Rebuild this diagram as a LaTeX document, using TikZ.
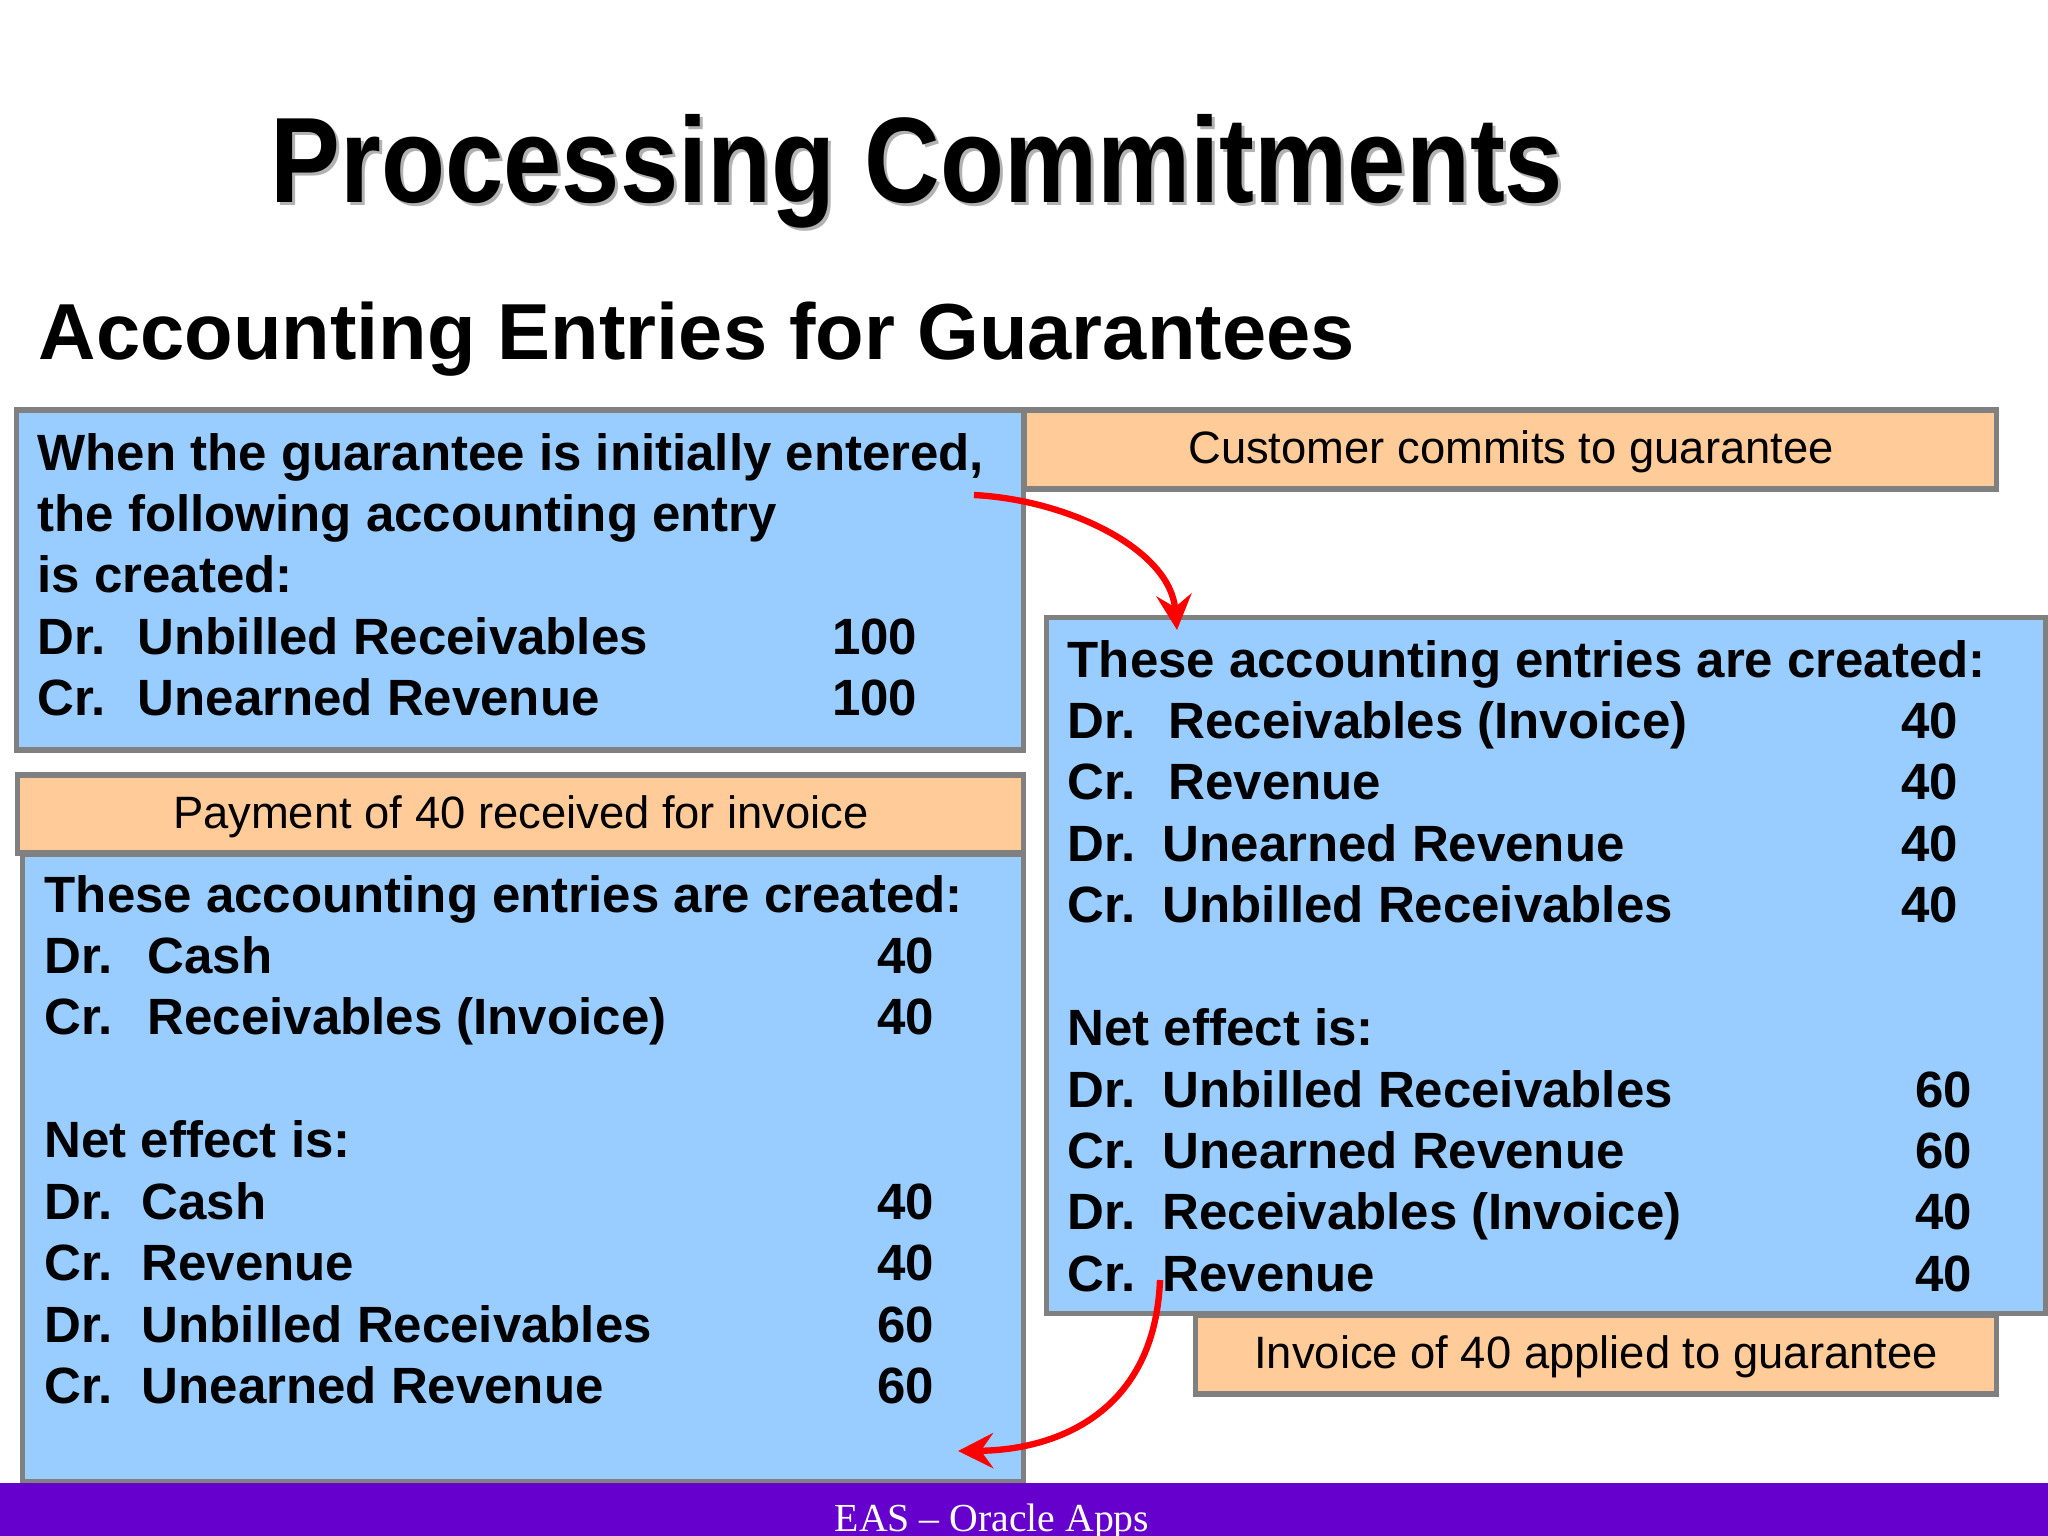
\documentclass[tikz,border=0pt]{standalone}
\usepackage{fontspec}
\setmainfont{Liberation Sans}
\newfontfamily\footerfont{Liberation Serif}
\usepackage{array}
\usetikzlibrary{arrows.meta}

\definecolor{boxblue}{RGB}{153,204,255}
\definecolor{boxpeach}{RGB}{255,204,153}
\definecolor{boxgray}{RGB}{128,128,128}
\definecolor{barpurple}{RGB}{102,0,204}
\newcommand{\entryfont}{\fontsize{14.5}{17.47}\bfseries\selectfont}
\newcommand{\notefont}{\fontsize{12.9}{15}\selectfont}
\newcommand{\wide}[1]{\multicolumn{3}{@{}l@{}}{#1}}
\newcommand{\shortamt}[1]{\mbox{#1\hspace{0.14cm}}}

\begin{document}
\begin{tikzpicture}[x=0.01cm, y=-0.01cm,
  bluebox/.style={draw=boxgray, line width=1.5pt, fill=boxblue, inner sep=0pt},
  notebox/.style={draw=boxgray, line width=1.5pt, fill=boxpeach, inner sep=0pt},
  entry/.style={anchor=base west, inner sep=0pt, font=\entryfont},
  note/.style={anchor=base, inner sep=0pt, font=\notefont},
  flow/.style={draw=red, line width=1.8pt, -{Stealth[length=10pt,width=10pt,inset=3.5pt]}}]
  \fill[white] (0,0) rectangle (2048,1536);
  \useasboundingbox (0,0) rectangle (2048,1536);

  % headings
  \node[anchor=base, inner sep=0pt, text=gray!60, font=\fontsize{29.8}{34}\bfseries\selectfont]
    (titleshadow) at (920,205) {\scalebox{1}[1.16]{Processing Commitments}};
  \node[anchor=base, inner sep=0pt, font=\fontsize{29.8}{34}\bfseries\selectfont]
    (title) at (917,202) {\scalebox{1}[1.16]{Processing Commitments}};
  \node[anchor=base west, inner sep=0pt, font=\fontsize{22.6}{27}\bfseries\selectfont]
    (subtitle) at (38,359) {Accounting Entries for Guarantees};

  % boxes
  \node[bluebox, minimum width=10.06cm, minimum height=3.40cm] (initial) at (520,580) {};
  \node[notebox, minimum width=9.71cm, minimum height=0.79cm] (commit) at (1510.5,449.5) {};
  \node[bluebox, minimum width=9.98cm, minimum height=6.95cm] (invoiced) at (1546,965.5) {};
  \node[notebox, minimum width=10.05cm, minimum height=0.78cm] (payment) at (520.5,814) {};
  \node[bluebox, minimum width=10.00cm, minimum height=6.26cm] (paid) at (523,1168) {};
  \node[notebox, minimum width=8.00cm, minimum height=0.79cm] (applied) at (1596,1354.5) {};

  % notes
  \node[note] (committxt) at (1511,463) {Customer commits to guarantee};
  \node[note] (paymenttxt) at (521,828) {Payment of 40 received for invoice};
  \node[note] (appliedtxt) at (1596,1368) {Invoice of 40 applied to guarantee};

  % entries
  \node[entry] (initialtxt) at (37,470) {%
    \begin{tabular}[t]{@{}p{1.00cm}@{}p{6.29cm}@{}>{\raggedleft\arraybackslash}p{1.5cm}@{}}
      \wide{When the guarantee is initially entered,}\\
      \wide{the following accounting entry}\\
      \wide{is created:}\\
      Dr. & Unbilled Receivables & 100\\
      Cr. & Unearned Revenue & 100
    \end{tabular}};
  \node[entry] (invoicedtxt) at (1067,677) {%
    \begin{tabular}[t]{@{}p{0.95cm}@{}p{6.59cm}@{}>{\raggedleft\arraybackslash}p{1.5cm}@{}}
      \wide{These accounting entries are created:}\\
      Dr. & \hspace*{0.06cm}Receivables (Invoice) & \shortamt{40}\\
      Cr. & \hspace*{0.06cm}Revenue & \shortamt{40}\\
      Dr. & Unearned Revenue & \shortamt{40}\\
      Cr. & Unbilled Receivables & \shortamt{40}\\
      \\
      \wide{Net effect is:}\\
      Dr. & Unbilled Receivables & 60\\
      Cr. & Unearned Revenue & 60\\
      Dr. & Receivables (Invoice) & 40\\
      Cr. & Revenue & 40
    \end{tabular}};
  \node[entry] (paidtxt) at (44,912) {%
    \begin{tabular}[t]{@{}p{0.97cm}@{}p{6.42cm}@{}>{\raggedleft\arraybackslash}p{1.5cm}@{}}
      \wide{These accounting entries are created:}\\
      Dr. & \hspace*{0.06cm}Cash & 40\\
      Cr. & \hspace*{0.06cm}Receivables (Invoice) & 40\\
      \\
      \wide{Net effect is:}\\
      Dr. & Cash & 40\\
      Cr. & Revenue & 40\\
      Dr. & Unbilled Receivables & 60\\
      Cr. & Unearned Revenue & 60
    \end{tabular}};

  % arrows
  \coordinate (commitfrom) at (974,495);
  \coordinate (committo) at (1177,630);
  \draw[flow] (commitfrom) .. controls (1070,500) and (1170,550) .. (committo);
  \coordinate (appliedfrom) at (1160,1280);
  \coordinate (appliedto) at (958,1451);
  \draw[flow] (appliedfrom) .. controls (1155,1410) and (1060,1450) .. (appliedto);

  % footer
  \node[fill=barpurple, minimum width=20.48cm, minimum height=0.53cm, inner sep=0pt]
    (footer) at (1024,1509.5) {};
  \node[anchor=base, inner sep=0pt, text=white, font=\footerfont\fontsize{11.3}{13}\selectfont]
    (footertxt) at (992,1531) {EAS – Oracle Apps};
\end{tikzpicture}
\end{document}
